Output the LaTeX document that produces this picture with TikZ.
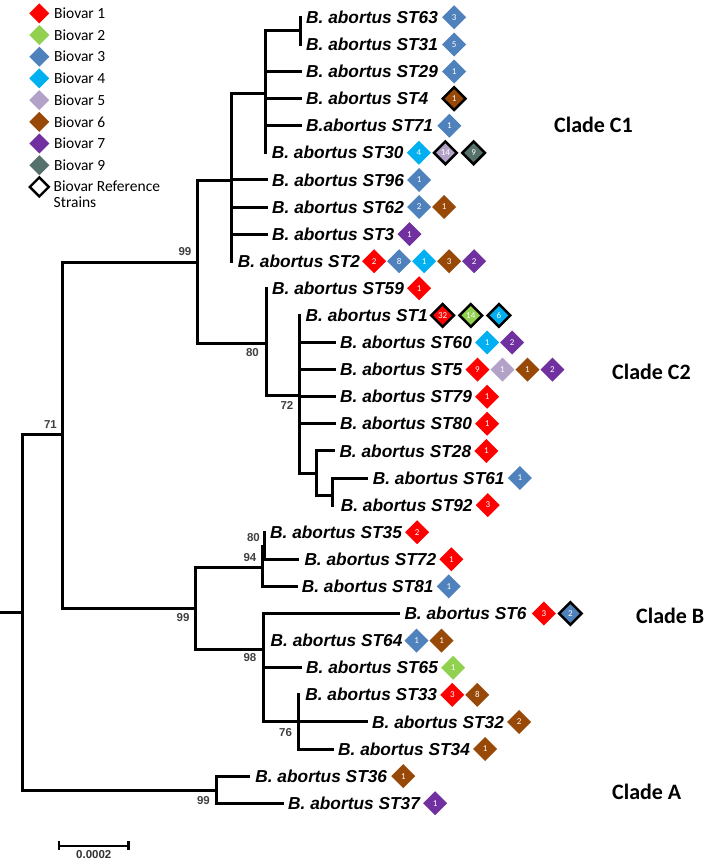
\documentclass[tikz,border=0pt]{standalone}
\usepackage{fontspec}
\setmainfont{Liberation Sans}
\newfontfamily\calibfont{Carlito}
\usepackage{tikz}
\usetikzlibrary{positioning,shapes.geometric}
\definecolor{bvred}{HTML}{FF0000}
\definecolor{bvgreen}{HTML}{92D050}
\definecolor{bvblue}{HTML}{4F81BD}
\definecolor{bvcyan}{HTML}{00B0F0}
\definecolor{bvlilac}{HTML}{B3A2C7}
\definecolor{bvbrown}{HTML}{984807}
\definecolor{bvpurple}{HTML}{7030A0}
\definecolor{bvslate}{HTML}{56706C}
\definecolor{bsgray}{HTML}{404040}

\begin{document}
\begin{tikzpicture}[
    x=1pt, y=-1pt,
    br/.style={line width=3pt, line cap=rect},
    leaf/.style={font=\fontsize{17.3}{19}\selectfont\bfseries\itshape,
                 inner sep=0pt, anchor=west},
    bs/.style={font=\fontsize{11.5}{12}\selectfont\bfseries, text=bsgray, inner sep=0pt},
    clade/.style={font=\calibfont\fontsize{22}{24}\selectfont\bfseries,
                  inner sep=0pt, anchor=west},
    lgtext/.style={font=\calibfont\fontsize{15.5}{15.6}\selectfont, inner sep=0pt},
    dm/.style={diamond, aspect=1, minimum size=24pt, inner sep=0pt, outer sep=0pt,
               text=white, font=\calibfont\fontsize{9}{10}\selectfont},
    refd/.style={draw=black, line width=2.5pt, outer sep=1.6pt},
    bv1/.style={dm, fill=bvred},
    bv2/.style={dm, fill=bvgreen},
    bv3/.style={dm, fill=bvblue},
    bv4/.style={dm, fill=bvcyan},
    bv5/.style={dm, fill=bvlilac},
    bv6/.style={dm, fill=bvbrown},
    bv7/.style={dm, fill=bvpurple},
    bv9/.style={dm, fill=bvslate}
  ]
  \useasboundingbox (0,0) rectangle (708,860);

  % legend
  \foreach \c/\t [count=\i from 0] in {bvred/Biovar 1, bvgreen/Biovar 2, bvblue/Biovar 3,
      bvcyan/Biovar 4, bvlilac/Biovar 5, bvbrown/Biovar 6, bvpurple/Biovar 7, bvslate/Biovar 9} {
    \node[dm, fill=\c, minimum size=20pt] (lg\i) at (39.3,13.3+21.7*\i) {};
    \node[lgtext, right=4.7pt of lg\i] (lt\i) {\t};
  }
  \node[dm, draw=black, line width=2.4pt, minimum size=19pt] (lg8) at (39.3,186.9) {};
  \node[lgtext, align=left, anchor=north west] (lt8)
    at ([xshift=4.7pt, yshift=6pt]lg8.east) {Biovar Reference\\Strains};

  % internal nodes
  \coordinate (rt)  at (1,612);
  \coordinate (nR)  at (22,612);
  \coordinate (n71) at (62,434);
  \coordinate (nC)  at (197.5,262);
  \coordinate (nC1) at (231.7,180);
  \coordinate (nS)  at (265.7,93);
  \coordinate (n63) at (300,30.85);
  \coordinate (nC2) at (266,343);
  \coordinate (n72) at (299.5,395);
  \coordinate (n28) at (316.7,473);
  \coordinate (n61) at (332.7,495);
  \coordinate (nB)  at (195.7,608.3);
  \coordinate (n94) at (262.5,567);
  \coordinate (n80) at (264,546);
  \coordinate (n98) at (263.5,649);
  \coordinate (n76) at (298.2,721.9);
  \coordinate (nA)  at (216,790);

  % leaf ends
  \coordinate (e63) at (300,17.3);
  \coordinate (e31) at (300,44.4);
  \coordinate (e29) at (300,71.5);
  \coordinate (e4)  at (300,98.6);
  \coordinate (e71) at (300,125.7);
  \coordinate (e30) at (265.7,152.8);
  \coordinate (e96) at (266,179.9);
  \coordinate (e62) at (266,207);
  \coordinate (e3)  at (266,234.1);
  \coordinate (e2)  at (231.7,261.2);
  \coordinate (e59) at (266,288.3);
  \coordinate (e1)  at (299.5,315.4);
  \coordinate (e60) at (334,342.5);
  \coordinate (e5)  at (334,369.6);
  \coordinate (e79) at (334,396.7);
  \coordinate (e80) at (334,423.8);
  \coordinate (e28) at (333.3,450.9);
  \coordinate (e61) at (366.7,478);
  \coordinate (e92) at (332.7,505.1);
  \coordinate (e35) at (264,532.2);
  \coordinate (e72) at (297.3,559.3);
  \coordinate (e81) at (296.7,586.4);
  \coordinate (e6)  at (398.3,613.5);
  \coordinate (e64) at (263.5,640.6);
  \coordinate (e65) at (300,667.7);
  \coordinate (e33) at (298.2,694.8);
  \coordinate (e32) at (366,721.9);
  \coordinate (e34) at (332,749);
  \coordinate (e36) at (248.2,776.1);
  \coordinate (e37) at (282,803.2);

  % branches
  \draw[br] (rt) -- (nR);
  \foreach \p/\c in {nR/n71, nR/nA, n71/nC, n71/nB, nC/nC1, nC/nC2,
      nC1/nS, nC1/e96, nC1/e62, nC1/e3, nC1/e2,
      nS/n63, nS/e29, nS/e4, nS/e71, nS/e30, n63/e63, n63/e31,
      nC2/e59, nC2/n72, n72/e1, n72/e60, n72/e5, n72/e79, n72/e80, n72/n28,
      n28/e28, n28/n61, n61/e61, n61/e92,
      nB/n94, nB/n98, n94/n80, n94/e81, n80/e35, n80/e72,
      n98/e6, n98/e64, n98/e65, n98/n76, n76/e33, n76/e32, n76/e34,
      nA/e36, nA/e37}
    \draw[br] (\p) |- (\c);

  % bootstrap values
  \node[bs, above left=5pt and 5pt of n71] {71};
  \node[bs, above left=6pt and 6pt of nC] {99};
  \node[bs, below left=5pt and 7pt of nC2] {80};
  \node[bs, below left=6pt and 6pt of n72] {72};
  \node[bs, above left=4pt and 4pt of n80] {80};
  \node[bs, above left=5pt and 6pt of n94] {94};
  \node[bs, below left=5pt and 6pt of nB] {99};
  \node[bs, below left=4pt and 7pt of n98] {98};
  \node[bs, below left=6pt and 6pt of n76] {76};
  \node[bs, below left=6pt and 6pt of nA] {99};

  % clade C1
  \node[leaf, right=6pt of e63] (l63) {B. abortus ST63};
  \node[bv3, right=4pt of l63] {3};
  \node[leaf, right=6pt of e31] (l31) {B. abortus ST31};
  \node[bv3, right=4pt of l31] {5};
  \node[leaf, right=6pt of e29] (l29) {B. abortus ST29};
  \node[bv3, right=4pt of l29] {1};
  \node[leaf, right=6pt of e4] (l4) {B. abortus ST4};
  \node[bv6, refd, right=12pt of l4] {1};
  \node[leaf, right=6pt of e71] (l71) {B.abortus ST71};
  \node[bv3, right=4pt of l71] {1};
  \node[leaf, right=6pt of e30] (l30) {B. abortus ST30};
  \node[bv4, right=3pt of l30] (d30a) {4};
  \node[bv5, refd, right=1pt of d30a] (d30b) {14};
  \node[bv9, refd, right=1pt of d30b] {9};
  \node[leaf, right=6pt of e96] (l96) {B. abortus ST96};
  \node[bv3, right=3pt of l96] {1};
  \node[leaf, right=6pt of e62] (l62) {B. abortus ST62};
  \node[bv3, right=3pt of l62] (d62a) {2};
  \node[bv6, right=1pt of d62a] {1};
  \node[leaf, right=6pt of e3] (l3) {B. abortus ST3};
  \node[bv7, right=3pt of l3] {1};
  \node[leaf, right=6pt of e2] (l2) {B. abortus ST2};
  \node[bv1, right=2pt of l2] (d2a) {2};
  \node[bv3, right=1pt of d2a] (d2b) {8};
  \node[bv4, right=1pt of d2b] (d2c) {1};
  \node[bv6, right=1pt of d2c] (d2d) {3};
  \node[bv7, right=1pt of d2d] {2};

  % clade C2
  \node[leaf, right=6pt of e59] (l59) {B. abortus ST59};
  \node[bv1, right=3pt of l59] {1};
  \node[leaf, right=6pt of e1] (l1) {B. abortus ST1};
  \node[bv1, refd, right=1pt of l1] (d1a) {32};
  \node[bv2, refd, right=1pt of d1a] (d1b) {14};
  \node[bv4, refd, right=1pt of d1b] {6};
  \node[leaf, right=6pt of e60] (l60) {B. abortus ST60};
  \node[bv4, right=3pt of l60] (d60a) {1};
  \node[bv7, right=1pt of d60a] {2};
  \node[leaf, right=6pt of e5] (l5) {B. abortus ST5};
  \node[bv1, right=3pt of l5] (d5a) {9};
  \node[bv5, right=1pt of d5a] (d5b) {1};
  \node[bv6, right=1pt of d5b] (d5c) {1};
  \node[bv7, right=1pt of d5c] {2};
  \node[leaf, right=6pt of e79] (l79) {B. abortus ST79};
  \node[bv1, right=3pt of l79] {1};
  \node[leaf, right=6pt of e80] (l80) {B. abortus ST80};
  \node[bv1, right=3pt of l80] {1};
  \node[leaf, right=6pt of e28] (l28) {B. abortus ST28};
  \node[bv1, right=3pt of l28] {1};
  \node[leaf, right=6pt of e61] (l61) {B. abortus ST61};
  \node[bv3, right=3pt of l61] {1};
  \node[leaf, right=8pt of e92] (l92) {B. abortus ST92};
  \node[bv1, right=3pt of l92] {3};

  % clade B
  \node[leaf, right=6pt of e35] (l35) {B. abortus ST35};
  \node[bv1, right=3pt of l35] {2};
  \node[leaf, right=7pt of e72] (l72) {B. abortus ST72};
  \node[bv1, right=3pt of l72] {1};
  \node[leaf, right=5pt of e81] (l81) {B. abortus ST81};
  \node[bv3, right=3pt of l81] {1};
  \node[leaf, right=6pt of e6] (l6) {B. abortus ST6};
  \node[bv1, right=5pt of l6] (d6a) {3};
  \node[bv3, refd, right=1pt of d6a] {2};
  \node[leaf, right=7pt of e64] (l64) {B. abortus ST64};
  \node[bv3, right=2pt of l64] (d64a) {1};
  \node[bv6, right=1pt of d64a] {1};
  \node[leaf, right=6pt of e65] (l65) {B. abortus ST65};
  \node[bv2, right=3pt of l65] {1};
  \node[leaf, right=7pt of e33] (l33) {B. abortus ST33};
  \node[bv1, right=3pt of l33] (d33a) {3};
  \node[bv6, right=1pt of d33a] {8};
  \node[leaf, right=6pt of e32] (l32) {B. abortus ST32};
  \node[bv6, right=3pt of l32] {2};
  \node[leaf, right=6pt of e34] (l34) {B. abortus ST34};
  \node[bv6, right=3pt of l34] {1};

  % clade A
  \node[leaf, right=7pt of e36] (l36) {B. abortus ST36};
  \node[bv6, right=4pt of l36] {1};
  \node[leaf, right=6pt of e37] (l37) {B. abortus ST37};
  \node[bv7, right=3pt of l37] {1};

  % clade names
  \node[clade] (cC1) at (554,125) {Clade C1};
  \node[clade] (cC2) at (612,372) {Clade C2};
  \node[clade] (cB)  at (636,616) {Clade B};
  \node[clade] (cA)  at (612,792) {Clade A};

  % scale bar
  \coordinate (sbL) at (59,845.7);
  \coordinate (sbR) at (128.6,845.7);
  \draw[line width=2.4pt] (sbL) -- node[bs, text=black!80, below=4pt] {0.0002} (sbR);
  \draw[line width=2.4pt] ([yshift=4.7pt]sbL) -- ([yshift=-4.7pt]sbL);
  \draw[line width=2.4pt] ([yshift=4.7pt]sbR) -- ([yshift=-4.7pt]sbR);
\end{tikzpicture}
\end{document}
